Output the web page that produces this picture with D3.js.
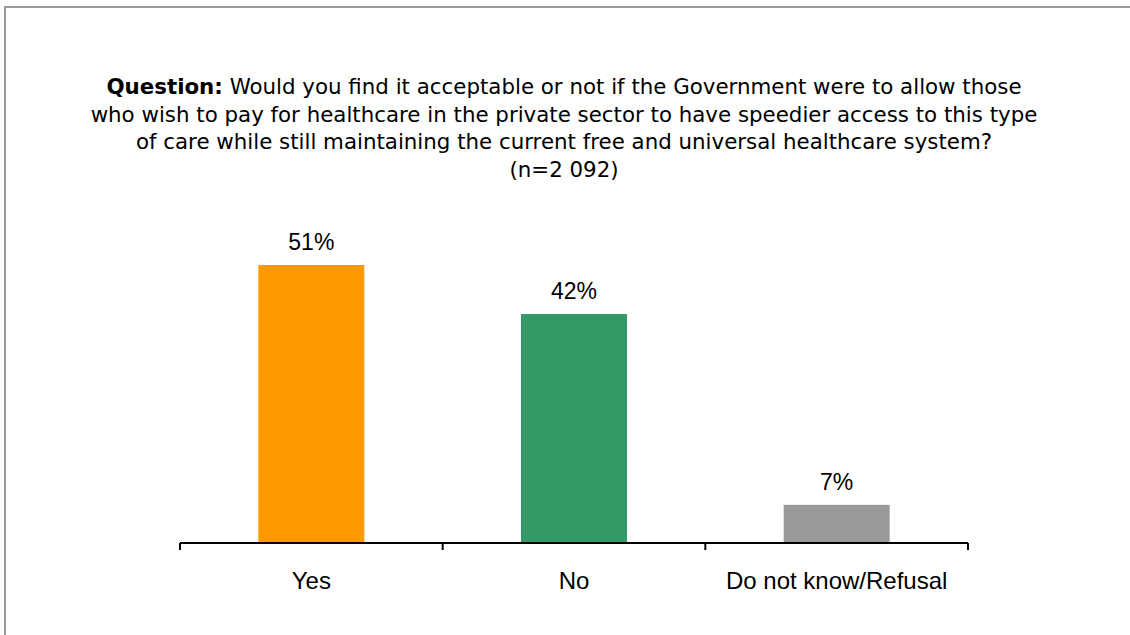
<!DOCTYPE html>
<html>
<head>
<meta charset="utf-8">
<script src="https://cdn.jsdelivr.net/npm/d3@7"></script>
<style>
  html, body { margin: 0; background: #fff; overflow: hidden; }
  svg { display: block; }
</style>
</head>
<body>
<script>
// chart data
var categories = ["Yes", "No", "Do not know/Refusal"];
var values = [51, 42, 7];
var barColors = ["#ff9900", "#339966", "#999999"];
var titleLines = [
  "Would you find it acceptable or not if the Government were to allow those",
  "who wish to pay for healthcare in the private sector to have speedier access to this type",
  "of care while still maintaining the current free and universal healthcare system?",
  "(n=2 092)"
];

function init(){
    var w = 1130, h = 635;

    var svg = d3.select("body").append("svg")
        .attr("width", w)
        .attr("height", h);

    // outer frame: only the top and left edges are visible
    svg.append("path")
        .attr("d", "M5," + h + "V7H" + w)
        .attr("fill", "none")
        .attr("stroke", "#9a9a9a")
        .attr("stroke-width", 2);

    // title
    var title = svg.append("text")
        .attr("text-anchor", "middle")
        .style("font-family", "'DejaVu Sans', Verdana, sans-serif")
        .style("font-size", "19px")
        .attr("fill", "#000");

    titleLines.forEach(function(line, i){
        var t = title.append("tspan")
            .attr("x", 564)
            .attr("y", 94 + i * 27.5);
        if (i == 0) {
            t.append("tspan").style("font-weight", "bold").text("Question:");
            t.append("tspan").text(" " + line);
        } else {
            t.text(line);
        }
    });

    // fit title size to the reference width of the longest line
    var probe = title.selectAll("tspan").nodes()[3];
    var len = probe.getComputedTextLength();
    if (len > 0) {
        title.style("font-size", (19 * 947 / len) + "px");
    }

    var x = d3.scaleBand()
        .domain(categories)
        .range([180, 968])
        .paddingInner(0)
        .paddingOuter(0);

    var y = d3.scaleLinear()
        .domain([0, 51])
        .range([543, 265]);

    var bw = 106;

    svg.selectAll("rect.bar")
        .data(values)
        .enter()
        .append("rect")
        .attr("class", "bar")
        .attr("x", function(d, i){ return x(categories[i]) + x.bandwidth() / 2 - bw / 2; })
        .attr("y", function(d){ return y(d); })
        .attr("width", bw)
        .attr("height", function(d){ return y(0) - y(d); })
        .attr("fill", function(d, i){ return barColors[i]; });

    svg.selectAll("text.val")
        .data(values)
        .enter()
        .append("text")
        .attr("class", "val")
        .attr("x", function(d, i){ return x(categories[i]) + x.bandwidth() / 2; })
        .attr("y", function(d){ return y(d) - 15; })
        .attr("text-anchor", "middle")
        .style("font-family", "'Liberation Sans', Arial, sans-serif")
        .style("font-size", "23px")
        .text(function(d){ return d + "%"; });

    // x axis: baseline with ticks at category boundaries
    var axis = svg.append("g");
    axis.append("line")
        .attr("x1", 180).attr("x2", 968)
        .attr("y1", 543).attr("y2", 543)
        .attr("stroke", "#000").attr("stroke-width", 2);

    var bounds = categories.map(function(c){ return x(c); }).concat([968]);
    axis.selectAll("line.tick")
        .data(bounds)
        .enter()
        .append("line")
        .attr("class", "tick")
        .attr("x1", function(d){ return d; })
        .attr("x2", function(d){ return d; })
        .attr("y1", 543).attr("y2", 550)
        .attr("stroke", "#000").attr("stroke-width", 2);

    axis.selectAll("text.cat")
        .data(categories)
        .enter()
        .append("text")
        .attr("class", "cat")
        .attr("x", function(d){ return x(d) + x.bandwidth() / 2; })
        .attr("y", 589)
        .attr("text-anchor", "middle")
        .style("font-family", "'Liberation Sans', Arial, sans-serif")
        .style("font-size", "24px")
        .text(function(d){ return d; });
}

window.onload = init;
</script>
</body>
</html>
